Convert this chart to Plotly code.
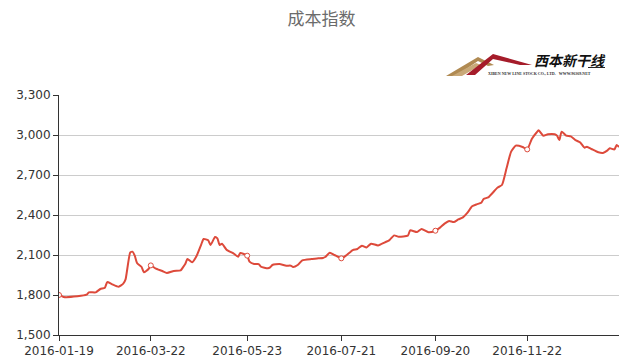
import plotly.graph_objects as go

title_text = "成本指数"

dates = [
    "2016-01-19", "2016-01-21", "2016-01-29", "2016-02-04", "2016-02-05", "2016-02-17",
    "2016-02-19", "2016-02-23", "2016-02-24", "2016-02-26", "2016-03-02", "2016-03-04",
    "2016-03-07", "2016-03-09", "2016-03-10", "2016-03-11", "2016-03-14", "2016-03-16",
    "2016-03-17", "2016-03-21", "2016-03-22", "2016-03-24", "2016-03-29", "2016-03-31",
    "2016-04-06", "2016-04-11", "2016-04-12", "2016-04-13", "2016-04-14", "2016-04-18",
    "2016-04-20", "2016-04-22", "2016-04-25", "2016-04-27", "2016-04-28", "2016-05-03",
    "2016-05-04", "2016-05-05", "2016-05-06", "2016-05-10", "2016-05-13", "2016-05-17",
    "2016-05-18", "2016-05-23", "2016-05-24", "2016-05-26", "2016-05-30", "2016-05-31",
    "2016-06-03", "2016-06-06", "2016-06-07", "2016-06-14", "2016-06-17", "2016-06-21",
    "2016-06-22", "2016-06-24", "2016-06-28", "2016-07-04", "2016-07-07", "2016-07-11",
    "2016-07-12", "2016-07-14", "2016-07-18", "2016-07-21", "2016-07-25", "2016-07-28",
    "2016-08-01", "2016-08-03", "2016-08-05", "2016-08-09", "2016-08-12", "2016-08-17",
    "2016-08-19", "2016-08-23", "2016-08-25", "2016-08-31", "2016-09-01", "2016-09-06",
    "2016-09-08", "2016-09-13", "2016-09-20", "2016-09-22", "2016-09-26", "2016-09-28",
    "2016-09-30", "2016-10-11", "2016-10-13", "2016-10-17", "2016-10-19", "2016-10-21",
    "2016-10-25", "2016-10-26", "2016-10-28", "2016-11-01", "2016-11-03", "2016-11-07",
    "2016-11-09", "2016-11-11", "2016-11-15", "2016-11-18", "2016-11-22", "2016-11-24",
    "2016-11-28", "2016-11-29", "2016-12-01", "2016-12-05", "2016-12-08", "2016-12-09",
    "2016-12-12", "2016-12-13", "2016-12-15", "2016-12-19", "2016-12-21", "2016-12-23",
    "2016-12-27", "2016-12-28", "2016-12-30", "2017-01-05", "2017-01-09", "2017-01-11",
    "2017-01-12", "2017-01-16", "2017-01-17", "2017-01-18",
]

values = [
    1800, 1785, 1790, 1802, 1820, 1820,
    1845, 1855, 1897, 1882, 1862, 1885,
    1917, 2117, 2125, 2095, 2040, 2010,
    1970, 1995, 2022, 2000, 1980, 1965,
    1980, 1985, 2007, 2032, 2070, 2045,
    2095, 2180, 2220, 2210, 2175, 2235,
    2225, 2175, 2185, 2140, 2112, 2087,
    2115, 2095, 2050, 2032, 2032, 2012,
    2000, 2007, 2025, 2032, 2020, 2020,
    2010, 2025, 2060, 2070, 2075, 2078,
    2085, 2117, 2100, 2075, 2095, 2137,
    2145, 2170, 2157, 2185, 2172, 2195,
    2212, 2247, 2237, 2245, 2285, 2272,
    2295, 2270, 2282, 2305, 2335, 2355,
    2347, 2367, 2382, 2417, 2465, 2480,
    2492, 2520, 2532, 2567, 2605, 2625,
    2750, 2875, 2920, 2910, 2892, 2970,
    3017, 3035, 2995, 3005, 3005, 2995,
    2962, 3025, 2995, 2990, 2962, 2945,
    2905, 2912, 2895, 2870, 2865, 2885,
    2900, 2892, 2925, 2910,
]

tick_dates = ["2016-01-19", "2016-03-22", "2016-05-23", "2016-07-21", "2016-09-20", "2016-11-22"]
tick_labels = ["2016-01-19", "2016-03-22", "2016-05-23", "2016-07-21", "2016-09-20", "2016-11-22"]

holidays = [
    "2016-02-08", "2016-02-09", "2016-02-10", "2016-02-11", "2016-02-12",
    "2016-04-04", "2016-05-02", "2016-06-09", "2016-06-10",
    "2016-09-15", "2016-09-16",
    "2016-10-03", "2016-10-04", "2016-10-05", "2016-10-06", "2016-10-07",
    "2017-01-02",
]

y_ticks = [1500, 1800, 2100, 2400, 2700, 3000, 3300]

LINE_COLOR = "#dd4a3b"

marker_x = [d for d in dates if d in tick_dates]
marker_y = [values[dates.index(d)] for d in marker_x]

fig = go.Figure()
fig.add_trace(go.Scatter(
    x=dates, y=values, mode="lines",
    line=dict(color=LINE_COLOR, width=2, shape="spline", smoothing=0.5),
    showlegend=False, hoverinfo="x+y",
))
fig.add_trace(go.Scatter(
    x=marker_x, y=marker_y, mode="markers",
    marker=dict(symbol="circle", size=5, color="white",
                line=dict(color=LINE_COLOR, width=1)),
    showlegend=False, hoverinfo="skip",
))

# plot area in pixels: left 59, right 619, top 95, bottom 335
L, R, T, B = 59, 619, 95, 335
W, H = 643, 364


def px(x):
    return (x - L) / (R - L)


def py(y):
    return (B - y) / (B - T)


def path(points):
    s = "M " + " L ".join(f"{px(a):.4f},{py(b):.4f}" for a, b in points) + " Z"
    return s


shapes = [
    dict(type="path", xref="paper", yref="paper",
         path=path([(446, 76), (478, 57), (494, 65), (488, 66), (478, 61), (456, 76)]),
         fillcolor="#b08a52", line=dict(width=0), layer="above"),
    dict(type="path", xref="paper", yref="paper",
         path=path([(452, 76), (476, 63), (481, 65), (462, 76)]),
         fillcolor="#c9a978", line=dict(width=0), layer="above"),
    dict(type="path", xref="paper", yref="paper",
         path=path([(466, 75), (493, 54), (532, 65), (520, 65), (493, 59), (475, 75)]),
         fillcolor="#a51c2a", line=dict(width=0), layer="above"),
    dict(type="line", xref="paper", yref="paper",
         x0=px(588), x1=px(605), y0=py(67.5), y1=py(67.5),
         line=dict(color="#222", width=1), layer="above"),
]

annotations = [
    dict(text="<b><i>西本新干线</i></b>", xref="paper", yref="paper",
         x=px(532), y=py(60.5), xanchor="left", yanchor="middle", showarrow=False,
         font=dict(family="Noto Sans CJK SC", size=14, color="#111")),
    dict(text="<b>XIBEN NEW LINE STOCK CO., LTD.   WWW.96369.NET</b>", xref="paper", yref="paper",
         x=px(486), y=py(73.5), xanchor="left", yanchor="middle", showarrow=False,
         font=dict(family="Liberation Serif", size=4, color="#333")),
]

fig.update_layout(
    width=W, height=H,
    margin=dict(l=L, r=W - R, t=T, b=H - B),
    paper_bgcolor="white", plot_bgcolor="white",
    title=dict(text=title_text, x=0.5, xanchor="center", y=1 - 19 / H, yanchor="middle",
               font=dict(family="Noto Sans CJK SC", size=17, color="#6b6b6b")),
    font=dict(family="DejaVu Sans", size=12, color="#333"),
    shapes=shapes, annotations=annotations,
    xaxis=dict(
        type="date", automargin=False,
        range=[dates[0], dates[-1]],
        rangebreaks=[dict(bounds=["sat", "mon"]), dict(values=holidays)],
        tickvals=tick_dates, ticktext=tick_labels,
        ticks="outside", ticklen=5, tickcolor="#333", tickwidth=1,
        showline=True, linecolor="#333", linewidth=1,
        showgrid=False, zeroline=False,
        tickfont=dict(family="DejaVu Sans", size=12, color="#333"),
    ),
    yaxis=dict(
        automargin=False,
        range=[1500, 3300], tickvals=y_ticks, tickformat=",d",
        ticks="outside", ticklen=5, tickcolor="#333", tickwidth=1,
        showline=True, linecolor="#333", linewidth=1,
        showgrid=True, gridcolor="#cccccc", gridwidth=1, zeroline=False,
        tickfont=dict(family="DejaVu Sans", size=12, color="#333"),
    ),
)

fig.write_html("out.html")
